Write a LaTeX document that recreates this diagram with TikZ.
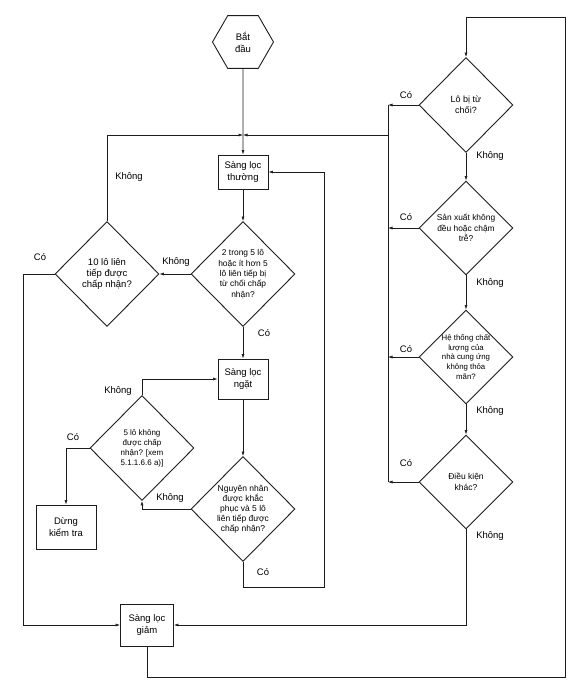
\documentclass[tikz,border=0pt]{standalone}
\usepackage{fontspec}
\setmainfont{Liberation Sans}
\usepackage{tikz}
\usetikzlibrary{arrows.meta,shapes.geometric}
\definecolor{Ink}{HTML}{1C1C1C}
\tikzset{
  >={Latex[length=4.5pt,width=3pt]},
  box/.style={rectangle,draw=Ink,line width=.9pt,align=center,inner sep=1pt,font=\fontsize{9.5}{12.5}\selectfont},
  ask/.style={diamond,draw=Ink,line width=.9pt,align=center,inner sep=-18pt,minimum width=104pt,minimum height=105pt,font=\fontsize{8.4}{10.4}\selectfont},
  hexa/.style={regular polygon,regular polygon sides=6,draw=Ink,line width=.9pt,minimum size=61pt,inner sep=0pt,align=center,font=\fontsize{9.5}{12}\selectfont},
  flow/.style={->,draw=Ink,line width=.6pt},
  wire/.style={draw=Ink,line width=.6pt},
  lab/.style={font=\fontsize{9.5}{11}\selectfont,inner sep=0pt}
}
\begin{document}
\begin{tikzpicture}[x=1pt,y=-1pt]
  \useasboundingbox (0,0) rectangle (574,686);

  % main column
  \node[hexa] (start) at (243,42) {Bắt\\đầu};
  \node[box,minimum width=50pt,minimum height=34pt] (thuong) at (243,172) {Sàng lọc\\thường};
  \node[ask] (hai5) at (243,274) {2 trong 5 lô\\hoặc ít hơn 5\\lô liên tiếp bị\\từ chối chấp\\nhận?};
  \node[ask,font=\fontsize{9.5}{11}\selectfont] (lo10) at (107,274) {10 lô liên\\tiếp được\\chấp nhận?};
  \node[box,minimum width=50pt,minimum height=40pt] (ngat) at (243,379) {Sàng lọc\\ngặt};
  \node[ask,font=\fontsize{8}{10}\selectfont] (nam5) at (142,448) {5 lô không\\được chấp\\nhận? [xem\\5.1.1.6.6 a)]};
  \node[box,minimum width=60pt,minimum height=44pt] (dung) at (66,527) {Dừng\\kiểm tra};
  \node[ask,font=\fontsize{8.5}{10}\selectfont] (nguyen) at (243,509) {Nguyên nhân\\được khắc\\phục và 5 lô\\liên tiếp được\\chấp nhận?};
  \node[box,minimum width=53pt,minimum height=42pt] (giam) at (147,625) {Sàng lọc\\giảm};

  % right column
  \node[ask,minimum width=94pt,minimum height=95pt,font=\fontsize{9}{11}\selectfont] (tuchoi) at (466,105) {Lô bị từ\\chối?};
  \node[ask,minimum width=94pt,minimum height=94pt] (sanxuat) at (466,228) {Sản xuất không\\đều hoặc chậm\\trễ?};
  \node[ask,minimum width=94pt,minimum height=94pt,font=\fontsize{7.8}{9.8}\selectfont] (hethong) at (466,357) {Hệ thống chất\\lượng của\\nhà cung ứng\\không thỏa\\mãn?};
  \node[ask,minimum width=94pt,minimum height=94pt,font=\fontsize{8.5}{10.5}\selectfont] (dieukien) at (466,482) {Điều kiện\\khác?};

  \coordinate (j1) at (243,135);
  \coordinate (busT) at (388,105);
  \coordinate (busJ) at (388,135);
  \coordinate (busB) at (388,482);
  \coordinate (cL) at (23,274);
  \coordinate (cN) at (324,587);
  \coordinate (c2) at (565,677);
  \coordinate (c4) at (466,17);

  % connectors
  \draw[flow] (start) -- (thuong);
  \draw[flow] (lo10.north) |- (j1);
  \draw[flow] (busJ) -- (j1);
  \draw[flow] (thuong) -- (hai5);
  \draw[flow] (hai5.west) -- (lo10.east);
  \draw[flow] (hai5) -- (ngat);
  \draw[flow] (ngat) -- (nguyen);
  \draw[flow] (nam5.north) |- (ngat.west);
  \draw[flow] (nam5.west) -| (dung.north);
  \draw[flow] (nguyen.west) -| (nam5.south);
  \draw[flow] (nguyen.south) |- (cN) |- (thuong.east);
  \draw[flow] (lo10.west) -- (cL) |- (giam.west);
  \draw[flow] (dieukien.south) |- (giam.east);
  \draw[flow] (giam.south) |- (c2) |- (c4) -- (tuchoi.north);

  \draw[flow] (tuchoi) -- (sanxuat);
  \draw[flow] (sanxuat) -- (hethong);
  \draw[flow] (hethong) -- (dieukien);
  \draw[flow] (tuchoi.west) -- (busT);
  \draw[flow] (sanxuat.west) -- (sanxuat.west -| busT);
  \draw[flow] (hethong.west) -- (hethong.west -| busT);
  \draw[flow] (dieukien.west) -- (busB);
  \draw[wire] (busT) -- (busB);

  % labels
  \node[lab] (l1) at (129,177) {Không};
  \node[lab] (l2) at (40,257) {Có};
  \node[lab] (l3) at (176,262) {Không};
  \node[lab] (l4) at (264,333) {Có};
  \node[lab] (l5) at (118,391) {Không};
  \node[lab] (l6) at (73,437) {Có};
  \node[lab] (l7) at (170,498) {Không};
  \node[lab] (l8) at (263,572) {Có};
  \node[lab] (l9) at (406,95) {Có};
  \node[lab] (l10) at (490,156) {Không};
  \node[lab] (l11) at (406,217) {Có};
  \node[lab] (l12) at (490,283) {Không};
  \node[lab] (l13) at (406,349) {Có};
  \node[lab] (l14) at (490,411) {Không};
  \node[lab] (l15) at (406,463) {Có};
  \node[lab] (l16) at (490,536) {Không};
\end{tikzpicture}
\end{document}
